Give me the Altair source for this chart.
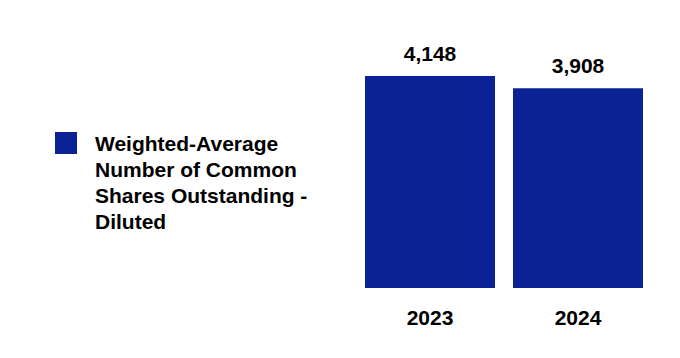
import altair as alt
import pandas as pd

years = ["2023", "2024"]
values = [4148, 3908]
series_name = "Weighted-Average\nNumber of Common\nShares Outstanding -\nDiluted"

BAR = "#0b2296"
FONT = "Liberation Sans"

bars_df = pd.DataFrame({"year": years, "value": values})
legend_df = pd.DataFrame({"label": [series_name]})

xenc = alt.X(
    "year:N",
    sort=years,
    scale=alt.Scale(paddingInner=0.1216, paddingOuter=0),
    axis=alt.Axis(
        title=None, domain=False, ticks=False, tickSize=0, labelAngle=0,
        labelFont=FONT, labelFontSize=21, labelFontWeight="bold",
        labelColor="#000000", labelPadding=19.5, labelBaseline="top",
    ),
)
yenc = alt.Y("value:Q", scale=alt.Scale(domain=[0, 4148], nice=False, zero=True), axis=None)

bars = alt.Chart(bars_df).mark_bar(color=BAR).encode(x=xenc, y=yenc)
labels = alt.Chart(bars_df).mark_text(
    font=FONT, fontSize=21, fontWeight="bold", color="#000000",
    baseline="alphabetic", dy=-15,
).encode(x=xenc, y=yenc, text=alt.Text("value:Q", format=","))

right = alt.layer(bars, labels).properties(width=278, height=212)

leg_square = alt.Chart(legend_df).mark_square(size=484, color=BAR, opacity=1).encode(
    x=alt.value(57), y=alt.value(67)
)
leg_text = alt.Chart(legend_df).mark_text(
    font=FONT, fontSize=21, fontWeight="bold", color="#000000",
    align="left", baseline="alphabetic", lineBreak="\n", lineHeight=26,
).encode(x=alt.value(86), y=alt.value(75), text="label:N")

left = alt.layer(leg_square, leg_text).properties(width=346, height=212)

chart = alt.hconcat(left, right, spacing=10, bounds="flush").properties(
    padding={"left": 1, "top": 36, "right": 0, "bottom": 0},
    background="#ffffff",
).configure_view(stroke="transparent", strokeWidth=0)

chart.save("out.html", embed_options={"renderer": "svg", "actions": False})
